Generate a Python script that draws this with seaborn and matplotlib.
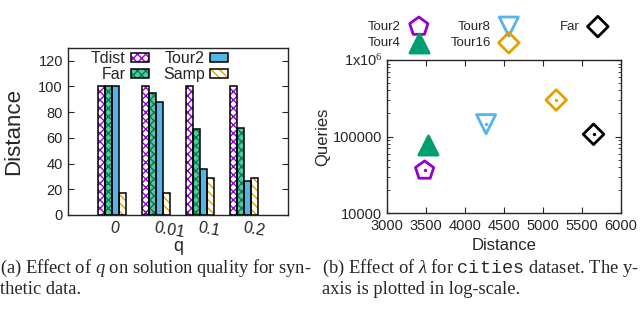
import pandas as pd
import seaborn as sns
import matplotlib.pyplot as plt
from matplotlib.patches import Rectangle
from matplotlib.ticker import LogLocator, NullFormatter

# left panel: distance vs q
q_labels = ['0', '0.01', '0.1', '0.2']
bar_methods = ['Tdist', 'Far', 'Tour2', 'Samp']
tdist = [100, 100, 100, 100]
far = [100, 95, 67, 68]
tour2 = [100, 88, 36, 26]
samp = [17, 17, 29, 29]

# right panel: queries vs distance
pt_methods = ['Tour2', 'Tour4', 'Tour8', 'Tour16', 'Far']
pt_distance = [3480, 3530, 4270, 5170, 5650]
pt_queries = [36000, 77000, 145000, 300000, 107000]

sns.set_style('ticks')
plt.rcParams['font.family'] = ['Liberation Sans', 'DejaVu Sans']
plt.rcParams['mathtext.fontset'] = 'custom'
plt.rcParams['mathtext.rm'] = 'Liberation Serif'
plt.rcParams['mathtext.it'] = 'Liberation Serif:italic'
plt.rcParams['mathtext.tt'] = 'Liberation Mono'
plt.rcParams['hatch.linewidth'] = 1.0

df = pd.DataFrame({
    'q': q_labels * 4,
    'method': [m for m in bar_methods for _ in q_labels],
    'value': tdist + far + tour2 + samp,
})

# face colour, hatch colour, hatch
bar_style = {
    'Tdist': ('white', '#9400D3', 'xxxx'),
    'Far': ('#5cc4a0', '#007a58', 'xxxx'),
    'Tour2': ('#56B4E9', '#56B4E9', ''),
    'Samp': ('white', '#E69F00', '\\\\\\\\'),
}

fig = plt.figure(figsize=(6.4, 3.11), dpi=100)
ax1 = fig.add_axes([0.106, 0.309, 0.344, 0.537])
ax2 = fig.add_axes([0.605, 0.315, 0.365, 0.492])

sns.barplot(data=df, x='q', y='value', hue='method', hue_order=bar_methods,
            order=q_labels, width=0.64, errorbar=None, legend=False, ax=ax1)

handles = []
for m, cont in zip(bar_methods, ax1.containers):
    fc, hc, h = bar_style[m]
    for bar in cont:
        bar.set_facecolor(fc)
        bar.set_edgecolor(hc)
        bar.set_hatch(h)
        bar.set_linewidth(0)
        ax1.add_patch(Rectangle(bar.get_xy(), bar.get_width(), bar.get_height(),
                                fill=False, edgecolor='black', linewidth=1.1, zorder=3))
    handles.append((Rectangle((0, 0), 1, 1, facecolor=fc, edgecolor=hc, hatch=h, linewidth=0),
                    Rectangle((0, 0), 1, 1, fill=False, edgecolor='black', linewidth=1.1)))

ax1.legend(handles, bar_methods, ncol=2, markerfirst=False, frameon=False,
           loc='upper left', bbox_to_anchor=(0.075, 1.02), fontsize=11.5,
           handlelength=1.1, handleheight=0.5, handletextpad=0.35,
           labelspacing=0.05, columnspacing=0.9, borderaxespad=0)

ax1.set_xlim(-1, 4)
ax1.set_ylim(0, 130)
ax1.set_yticks(range(0, 121, 20))
ax1.set_xticks(range(4))
ax1.set_xticklabels(q_labels, rotation=-10, ha='left', rotation_mode='anchor', fontsize=11.5)
ax1.tick_params(axis='x', length=0, pad=4)
ax1.tick_params(axis='y', direction='in', right=True, length=4, labelsize=10.5)
ax1.set_xlabel('q', fontsize=13, labelpad=-2)
ax1.set_ylabel('Distance', fontsize=16, labelpad=10)
for s in ax1.spines.values():
    s.set_visible(True)
    s.set_linewidth(1)

pt_style = {
    'Tour2': ('p', '#9400D3', 'none'),
    'Tour4': ('^', '#009E73', '#009E73'),
    'Tour8': ('v', '#56B4E9', 'none'),
    'Tour16': ('D', '#E69F00', 'none'),
    'Far': ('D', 'black', 'none'),
}
for m, x, y in zip(pt_methods, pt_distance, pt_queries):
    mk, c, fc = pt_style[m]
    size = 110 if mk == 'D' else 190
    sns.scatterplot(x=[x], y=[y], marker=mk, s=size, facecolor=fc, edgecolor=c,
                    linewidth=2, label=m, ax=ax2, zorder=3)
    ax2.scatter([x], [y], s=2, color=c, zorder=4)
if ax2.get_legend() is not None:
    ax2.get_legend().remove()

# gnuplot-style key above the plot: three equal columns
h2, l2 = ax2.get_legend_handles_labels()
key_cols = [(0, 2, 434), (2, 4, 524), (4, 5, 613)]
for i0, i1, xr in key_cols:
    fig.legend(h2[i0:i1], l2[i0:i1], markerfirst=False, frameon=False,
               loc='upper right', bbox_to_anchor=(xr / 640, 0.95), fontsize=9.5,
               handlelength=1.5, handletextpad=0.6, labelspacing=0.3, borderaxespad=0)

ax2.set_yscale('log')
ax2.set_xlim(3000, 6000)
ax2.set_ylim(1e4, 1e6)
ax2.set_xticks(range(3000, 6001, 500))
ax2.set_yticks([1e4, 1e5, 1e6], labels=['10000', '100000', r'1x10$^{6}$'])
ax2.yaxis.set_minor_locator(LogLocator(base=10, subs=range(2, 10)))
ax2.yaxis.set_minor_formatter(NullFormatter())
ax2.tick_params(which='both', direction='in', top=True, right=True, labelsize=10.5)
ax2.tick_params(which='major', length=4)
ax2.tick_params(which='minor', length=2)
ax2.tick_params(axis='x', pad=4)
ax2.set_xlabel('Distance', fontsize=12, labelpad=4)
ax2.set_ylabel('Queries', fontsize=12, labelpad=2)
for s in ax2.spines.values():
    s.set_visible(True)
    s.set_linewidth(1)

cap = dict(fontsize=13.3, family='Liberation Serif', va='baseline', ha='left')
fig.text(0.0, 1 - 273 / 311, r'(a) Effect of $q$ on solution quality for syn-', **cap)
fig.text(0.0, 1 - 294 / 311, 'thetic data.', **cap)
fig.text(322 / 640, 1 - 273 / 311, r'(b) Effect of $\lambda$ for $\mathtt{cities}$ dataset. The y-', **cap)
fig.text(322 / 640, 1 - 294 / 311, 'axis is plotted in log-scale.', **cap)

fig.savefig('out.png', dpi=100)
